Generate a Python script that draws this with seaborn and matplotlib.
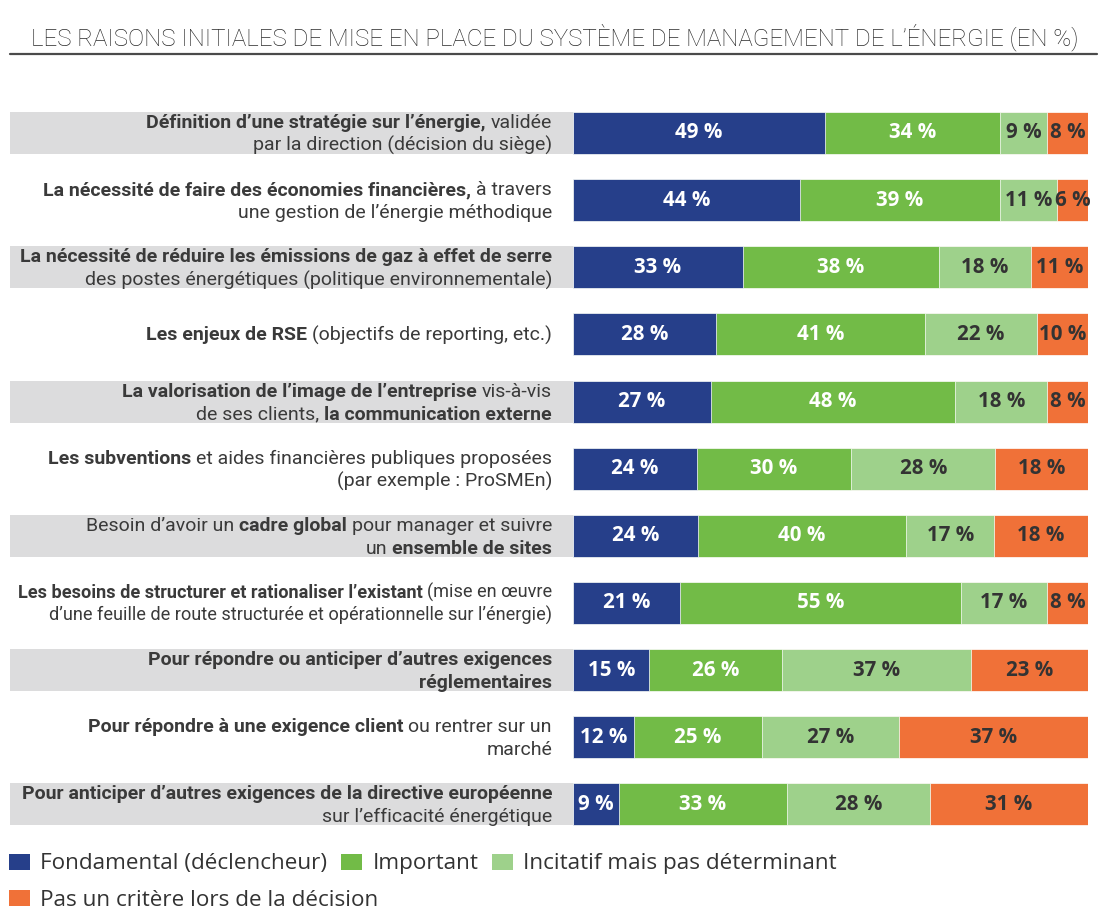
import numpy as np
import pandas as pd
import matplotlib
matplotlib.use("Agg")
import matplotlib.pyplot as plt
import matplotlib.transforms as mtrans
from matplotlib.patches import Rectangle, Patch
from matplotlib.lines import Line2D
import seaborn as sns

# ---------------- data ----------------
title = "LES RAISONS INITIALES DE MISE EN PLACE DU SYSTÈME DE MANAGEMENT DE L’ÉNERGIE (EN %)"

series_names = ["Fondamental (déclencheur)", "Important",
                "Incitatif mais pas déterminant", "Pas un critère lors de la décision"]

fondamental = [49, 44, 33, 28, 27, 24, 24, 21, 15, 12, 9]
important = [34, 39, 38, 41, 48, 30, 40, 55, 26, 25, 33]
incitatif = [9, 11, 18, 22, 18, 28, 17, 17, 37, 27, 28]
pas_critere = [8, 6, 11, 10, 8, 18, 18, 8, 23, 37, 31]

# each label: list of lines, each line a list of (text, bold)
labels = [
    [[("Définition d’une stratégie sur l’énergie,", True), ("validée", False)],
     [("par la direction (décision du siège)", False)]],
    [[("La nécessité de faire des économies financières,", True), ("à travers", False)],
     [("une gestion de l’énergie méthodique", False)]],
    [[("La nécessité de réduire les émissions de gaz à effet de serre", True)],
     [("des postes énergétiques (politique environnementale)", False)]],
    [[("Les enjeux de RSE", True), ("(objectifs de reporting, etc.)", False)]],
    [[("La valorisation de l’image de l’entreprise", True), ("vis-à-vis", False)],
     [("de ses clients,", False), ("la communication externe", True)]],
    [[("Les subventions", True), ("et aides financières publiques proposées", False)],
     [("(par exemple : ProSMEn)", False)]],
    [[("Besoin d’avoir un", False), ("cadre global", True), ("pour manager et suivre", False)],
     [("un", False), ("ensemble de sites", True)]],
    [[("Les besoins de structurer et rationaliser l’existant", True), ("(mise en œuvre", False)],
     [("d’une feuille de route structurée et opérationnelle sur l’énergie)", False)]],
    [[("Pour répondre ou anticiper d’autres exigences", True)],
     [("réglementaires", True)]],
    [[("Pour répondre à une exigence client", True), ("ou rentrer sur un", False)],
     [("marché", False)]],
    [[("Pour anticiper d’autres exigences de la directive européenne", True)],
     [("sur l’efficacité énergétique", False)]],
]
categories = [" ".join(t for line in lab for t, _ in line) for lab in labels]

# ---------------- style ----------------
colors = ["#263f8a", "#72bb47", "#9ed18b", "#f07138"]
text_colors = ["white", "white", "#333333", "#333333"]
gray_box = "#dcdcdd"
label_color = "#3a3a3a"

sns.set_theme(style="white")
plt.rcParams["font.family"] = ["Roboto", "DejaVu Sans"]

W, H = 1100, 917
fig = plt.figure(figsize=(W / 100, H / 100), dpi=100)
fig.patch.set_facecolor("white")

ax = fig.add_axes([573 / W, 1 - 838 / H, (1088 - 573) / W, (838 - 99.4) / H])

df = pd.DataFrame({"cat": categories,
                   series_names[0]: fondamental, series_names[1]: important,
                   series_names[2]: incitatif, series_names[3]: pas_critere})
vals = df[series_names].to_numpy(dtype=float)
pct = vals / vals.sum(axis=1, keepdims=True) * 100
cum = np.cumsum(pct, axis=1)

bar_h = 0.625
for k in range(3, -1, -1):
    sns.barplot(x=cum[:, k], y=df["cat"], orient="h", color=colors[k],
                saturation=1, width=bar_h, ax=ax, edgecolor="white",
                linewidth=0.5, zorder=3)

ax.set_xlim(0, 100)
ax.set_ylim(len(categories) - 0.5, -0.5)
ax.set_xticks([])
ax.set_yticks([])
ax.set_xlabel("")
ax.set_ylabel("")
for s in ax.spines.values():
    s.set_visible(False)
ax.patch.set_alpha(0)

# value labels
val_font = ["Open Sans", "DejaVu Sans"]
for i in range(len(categories)):
    left = 0
    for k in range(4):
        w = pct[i, k]
        ax.text(left + w / 2, i, f"{vals[i, k]:.0f} %", ha="center", va="center",
                color=text_colors[k], fontsize=14.8, fontweight="bold",
                family=val_font, zorder=5)
        left += w

# gray label boxes (odd rows)
blend = mtrans.blended_transform_factory(fig.transFigure, ax.transData)
for i in range(0, len(categories), 2):
    ax.add_patch(Rectangle((10 / W, i - bar_h / 2), (578 - 10) / W, bar_h,
                           transform=blend, facecolor=gray_box, edgecolor="none",
                           clip_on=False, zorder=1))

# category labels with mixed bold / regular
fig.canvas.draw()
renderer = fig.canvas.get_renderer()
label_sizes = [14, 14, 14, 14, 14, 14, 14, 13.1, 14, 14, 14]

right_px = 552
for i, lab in enumerate(labels):
    fs = label_sizes[i]
    probe1 = fig.text(0, 0, "x x", fontsize=fs)
    probe2 = fig.text(0, 0, "xx", fontsize=fs)
    gap = probe1.get_window_extent(renderer).width - probe2.get_window_extent(renderer).width
    probe1.remove(); probe2.remove()
    cy = ax.transData.transform((0, i))[1]
    if len(lab) == 2:
        baselines = [cy + 5, cy - 18]
    else:
        baselines = [cy - 6]
    for line, by in zip(lab, baselines):
        x = right_px
        for seg, bold in reversed(line):
            t = fig.text(x / W, by / H, seg, ha="right", va="baseline",
                         fontsize=fs, color=label_color,
                         fontweight="bold" if bold else "normal")
            bb = t.get_window_extent(renderer)
            x = bb.x0 - gap

# title and rule
fig.text(555 / W, 1 - 37 / H, title, ha="center", va="center", fontsize=17.4,
         color="#2a2a2a", fontweight="light")
fig.add_artist(Line2D([10 / W, 1097 / W], [1 - 54 / H, 1 - 54 / H],
                      color="#4a4a4a", lw=1.6))

# legends
handles = [Patch(facecolor=c, edgecolor="none") for c in colors]
leg_kw = dict(frameon=False, handlelength=0.95, handleheight=0.7,
              handletextpad=0.45, columnspacing=0.6, borderaxespad=0, borderpad=0,
              labelcolor="#333333", prop={"family": ["Open Sans", "DejaVu Sans"], "size": 16.2})
leg1 = fig.legend(handles[:3], series_names[:3], ncol=3, loc="center left",
                  bbox_to_anchor=(9 / W, 1 - 864 / H), **leg_kw)
leg2 = fig.legend(handles[3:], series_names[3:], ncol=1, loc="center left",
                  bbox_to_anchor=(9 / W, 1 - 900 / H), **leg_kw)

fig.savefig("out.png", dpi=100, facecolor="white")
